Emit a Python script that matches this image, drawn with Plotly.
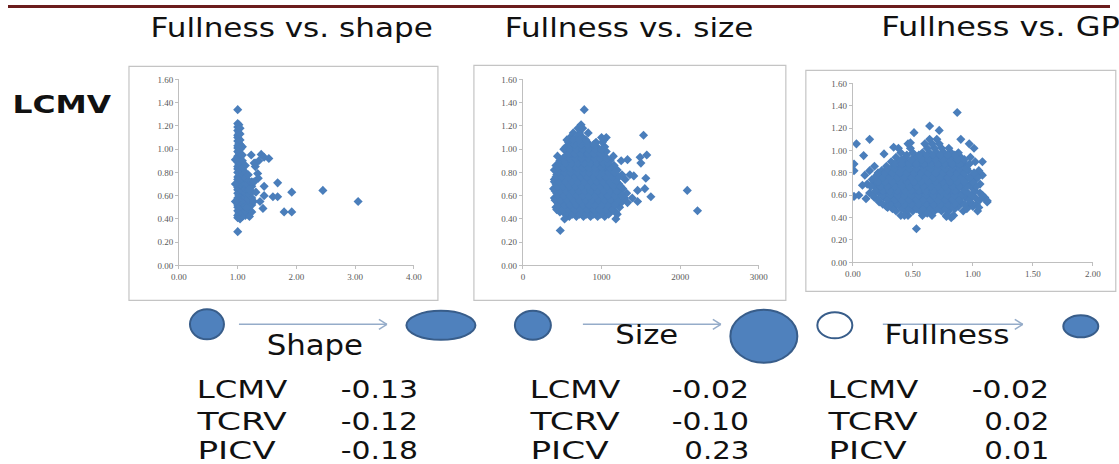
import json
import plotly.graph_objects as go

W, H = 1119, 464

# ---------------- data ----------------
shape_col_x = [1.00, 1.02, 1.04, 1.08, 1.13, 1.18, 1.24, 0.96]
shape_col_y = [
    [0.41, 0.43, 0.47, 0.50, 0.52, 0.56, 0.58, 0.62, 0.65, 0.67, 0.71, 0.74, 0.76, 0.80,
     0.83, 0.85, 0.89, 0.92, 0.94, 0.98, 1.01, 1.03, 1.07, 1.10, 1.12, 1.16, 1.19, 1.22],
    [0.45, 0.53, 0.60, 0.69, 0.77, 0.87, 0.97, 1.05, 1.14, 1.21],
    [0.40, 0.44, 0.48, 0.51, 0.54, 0.57, 0.61, 0.63, 0.66, 0.70, 0.72, 0.75, 0.79, 0.82,
     0.86, 0.88, 0.93, 0.96, 1.00, 1.04, 1.08, 1.13, 1.18],
    [0.42, 0.45, 0.49, 0.53, 0.56, 0.60, 0.64, 0.68, 0.71, 0.74, 0.78, 0.81, 0.84, 0.90, 0.95, 1.02],
    [0.43, 0.47, 0.51, 0.55, 0.59, 0.62, 0.66, 0.70, 0.75, 0.80, 0.86],
    [0.44, 0.48, 0.53, 0.57, 0.61, 0.65, 0.69, 0.73, 0.78],
    [0.46, 0.52, 0.58, 0.63, 0.68, 0.72],
    [0.55, 0.70, 0.91],
]
shape_out_x = [1.00, 1.00, 2.45, 3.05, 1.92, 1.79, 1.92, 1.68, 1.60, 1.68, 1.45, 1.43, 1.45, 1.23, 1.40,
               1.53, 1.45, 1.28, 1.34, 1.30, 1.35, 1.28, 1.31, 1.20, 1.27, 1.38, 1.20, 1.15, 1.30, 1.36]
shape_out_y = [1.34, 0.29, 0.645, 0.55, 0.63, 0.46, 0.46, 0.71, 0.59, 0.59, 0.68, 0.49, 0.60, 0.95, 0.955,
               0.92, 0.93, 0.88, 0.79, 0.85, 0.75, 0.72, 0.63, 0.65, 0.55, 0.55, 0.42, 0.50, 0.88, 0.90]

size_levels = [0.42, 0.46, 0.50, 0.54, 0.58, 0.62, 0.66, 0.70, 0.74, 0.78, 0.82,
               0.86, 0.90, 0.94, 0.98, 1.02, 1.06, 1.10, 1.14, 1.18, 1.21]
size_rows = [
    [590, 680, 770, 860, 950, 1040],
    [470, 540, 620, 700, 780, 860, 940, 1020, 1100, 1180],
    [420, 490, 560, 640, 720, 800, 880, 960, 1040, 1120, 1230],
    [440, 510, 590, 670, 750, 830, 910, 990, 1070, 1150, 1250, 1330],
    [400, 470, 550, 630, 710, 790, 870, 950, 1030, 1110, 1190, 1290, 1390],
    [430, 500, 580, 660, 740, 820, 900, 980, 1060, 1140, 1230, 1320],
    [390, 460, 540, 620, 700, 780, 860, 940, 1020, 1100, 1180, 1270],
    [420, 490, 570, 650, 730, 810, 890, 970, 1050, 1130, 1220],
    [400, 470, 550, 630, 710, 790, 870, 950, 1030, 1110, 1180, 1300],
    [430, 510, 590, 670, 750, 830, 910, 990, 1070, 1150, 1260, 1360],
    [400, 480, 560, 640, 720, 800, 880, 960, 1040, 1120, 1200],
    [420, 500, 580, 660, 740, 820, 900, 980, 1060, 1160],
    [470, 550, 630, 710, 790, 870, 950, 1030, 1110, 1250],
    [440, 540, 620, 700, 780, 860, 940, 1020, 1150],
    [560, 640, 720, 800, 880, 960, 1060],
    [550, 620, 700, 780, 860, 940, 1040],
    [580, 660, 740, 820, 930, 1010],
    [600, 690, 760, 1000, 1060],
    [640, 720, 830],
    [700, 760],
    [740],
]
size_core_levels = [0.44, 0.48, 0.52, 0.56, 0.60, 0.64, 0.68, 0.72, 0.76, 0.80,
                    0.84, 0.88, 0.92, 0.96, 1.00, 1.04, 1.08]
size_core_rows = [
    [540, 630, 720, 810, 900, 990, 1090],
    [430, 510, 580, 660, 740, 820, 900, 980, 1060, 1140],
    [450, 530, 600, 680, 760, 840, 920, 1000, 1080, 1170],
    [410, 480, 560, 640, 720, 800, 880, 960, 1040, 1120, 1210],
    [440, 520, 600, 680, 760, 840, 920, 1000, 1080, 1170, 1260],
    [410, 470, 550, 630, 710, 790, 870, 950, 1030, 1110, 1200],
    [440, 510, 590, 670, 750, 830, 910, 990, 1070, 1150, 1240],
    [400, 460, 540, 620, 700, 780, 860, 940, 1020, 1100, 1190],
    [420, 500, 580, 660, 740, 820, 900, 980, 1060, 1140, 1220],
    [450, 530, 610, 690, 770, 850, 930, 1010, 1090, 1170],
    [440, 520, 600, 680, 760, 840, 920, 1000, 1100],
    [460, 540, 620, 700, 780, 860, 940, 1020, 1080],
    [510, 590, 670, 750, 830, 910, 990, 1070],
    [590, 660, 740, 820, 900, 990],
    [520, 600, 680, 760, 840, 920, 1000],
    [590, 660, 740, 820, 900],
    [560, 640, 720, 800, 1030],
]
size_out_x = [780, 475, 2090, 2220, 1534, 1490, 1575, 1500, 1563, 1550, 1182, 1458, 1627, 1458, 1410, 1330, 530, 1200]
size_out_y = [1.34, 0.30, 0.645, 0.47, 1.12, 0.93, 0.95, 0.88, 0.75, 0.66, 0.40, 0.55, 0.59, 0.645, 0.77, 0.91, 0.40, 0.44]

gp_levels = [0.42, 0.46, 0.50, 0.54, 0.58, 0.62, 0.66, 0.70, 0.74, 0.78, 0.82,
             0.86, 0.90, 0.94, 0.98, 1.02, 1.06, 1.10]
gp_rows = [
    [0.40, 0.46, 0.58, 0.66, 0.78, 0.84],
    [0.36, 0.44, 0.50, 0.56, 0.62, 0.68, 0.74, 0.80, 0.92, 1.04],
    [0.28, 0.34, 0.40, 0.46, 0.52, 0.58, 0.64, 0.70, 0.76, 0.82, 0.88, 0.96, 1.00],
    [0.22, 0.30, 0.36, 0.42, 0.48, 0.54, 0.60, 0.66, 0.72, 0.78, 0.84, 0.90, 0.98, 1.12],
    [0.18, 0.26, 0.32, 0.38, 0.44, 0.50, 0.56, 0.62, 0.68, 0.74, 0.80, 0.86, 0.94, 1.02, 1.10],
    [0.14, 0.22, 0.28, 0.34, 0.40, 0.46, 0.52, 0.58, 0.64, 0.70, 0.76, 0.82, 0.88, 0.96, 1.06],
    [0.20, 0.26, 0.32, 0.38, 0.44, 0.50, 0.56, 0.62, 0.68, 0.74, 0.80, 0.86, 0.92, 1.00],
    [0.12, 0.18, 0.24, 0.30, 0.36, 0.42, 0.48, 0.54, 0.60, 0.66, 0.72, 0.78, 0.84, 0.90, 0.98, 1.06],
    [0.16, 0.22, 0.28, 0.34, 0.40, 0.46, 0.52, 0.58, 0.64, 0.70, 0.76, 0.82, 0.88, 0.94, 1.02],
    [0.10, 0.20, 0.26, 0.32, 0.38, 0.44, 0.50, 0.56, 0.62, 0.68, 0.74, 0.80, 0.86, 0.92, 1.00, 1.08],
    [0.14, 0.24, 0.30, 0.36, 0.42, 0.48, 0.54, 0.60, 0.66, 0.72, 0.78, 0.84, 0.90, 0.96, 1.05],
    [0.18, 0.28, 0.34, 0.40, 0.46, 0.52, 0.58, 0.64, 0.70, 0.76, 0.82, 0.88, 0.94],
    [0.32, 0.38, 0.44, 0.50, 0.56, 0.62, 0.68, 0.74, 0.80, 0.86, 0.92, 1.02],
    [0.36, 0.44, 0.52, 0.60, 0.66, 0.72, 0.78, 0.84, 0.90, 0.98],
    [0.40, 0.50, 0.58, 0.64, 0.70, 0.76, 0.82, 0.88],
    [0.38, 0.48, 0.62, 0.68, 0.74, 0.80, 1.01],
    [0.46, 0.60, 0.66, 0.72, 0.97],
    [0.64, 0.70, 0.90],
]
gp_core_levels = [0.48, 0.52, 0.56, 0.60, 0.64, 0.68, 0.72, 0.76, 0.80, 0.84, 0.88, 0.92, 0.96]
gp_core_rows = [
    [0.33, 0.41, 0.47, 0.53, 0.59, 0.65, 0.71, 0.77, 0.85, 0.95],
    [0.25, 0.31, 0.37, 0.43, 0.49, 0.55, 0.61, 0.67, 0.73, 0.79, 0.85, 0.93, 1.03],
    [0.21, 0.29, 0.35, 0.41, 0.47, 0.53, 0.59, 0.65, 0.71, 0.77, 0.83, 0.89, 0.97, 1.06],
    [0.17, 0.25, 0.31, 0.37, 0.43, 0.49, 0.55, 0.61, 0.67, 0.73, 0.79, 0.85, 0.91, 0.99, 1.08],
    [0.19, 0.25, 0.31, 0.37, 0.43, 0.49, 0.55, 0.61, 0.67, 0.73, 0.79, 0.85, 0.93, 1.02],
    [0.15, 0.23, 0.29, 0.35, 0.41, 0.47, 0.53, 0.59, 0.65, 0.71, 0.77, 0.83, 0.89, 0.95, 1.03],
    [0.21, 0.27, 0.33, 0.39, 0.45, 0.51, 0.57, 0.63, 0.69, 0.75, 0.81, 0.87, 0.93, 1.00],
    [0.19, 0.25, 0.31, 0.37, 0.43, 0.49, 0.55, 0.61, 0.67, 0.73, 0.79, 0.85, 0.91, 0.97, 1.04],
    [0.21, 0.27, 0.33, 0.39, 0.45, 0.51, 0.57, 0.63, 0.69, 0.75, 0.81, 0.87, 0.93, 1.01],
    [0.29, 0.35, 0.41, 0.47, 0.53, 0.59, 0.65, 0.71, 0.77, 0.83, 0.89, 0.95],
    [0.35, 0.41, 0.47, 0.53, 0.59, 0.65, 0.71, 0.77, 0.83, 0.89, 0.97],
    [0.41, 0.49, 0.57, 0.63, 0.69, 0.75, 0.81, 0.87, 0.93],
    [0.45, 0.55, 0.62, 0.67, 0.73, 0.79, 0.85],
]
gp_out_x = [0.87, 0.53, 0.03, 0.14, 0.01, 0.01, 0.01, 0.05, 0.09, 0.11, 0.08, 0.29, 0.26, 0.64, 0.72,
            0.51, 0.48, 0.34, 1.08, 1.12, 1.05, 0.82, 0.78, 0.43, 0.62]
gp_out_y = [1.34, 0.30, 1.06, 1.10, 0.88, 0.82, 0.59, 0.60, 0.955, 0.57, 0.69, 0.49, 0.97, 1.22, 1.18,
            1.16, 1.07, 1.03, 0.90, 0.55, 0.49, 0.40, 0.41, 0.42, 0.44]

panel_titles = ["Fullness vs. shape", "Fullness vs. size", "Fullness vs. GP"]
arrow_labels = ["Shape", "Size", "Fullness"]
row_labels = ["LCMV", "TCRV", "PICV"]
corr_shape = [-0.13, -0.12, -0.18]
corr_size = [-0.02, -0.10, 0.23]
corr_gp = [-0.02, 0.02, 0.01]

# ---------------- build point lists ----------------
def from_cols(cx, cy):
    xs, ys = [], []
    for x, col in zip(cx, cy):
        for y in col:
            xs.append(x); ys.append(y)
    return xs, ys

def from_rows(levels, rows):
    xs, ys = [], []
    for y, row in zip(levels, rows):
        for x in row:
            xs.append(x); ys.append(y)
    return xs, ys

sx, sy = from_cols(shape_col_x, shape_col_y)
sx += shape_out_x; sy += shape_out_y
zx, zy = from_rows(size_levels, size_rows)
cx_, cy_ = from_rows(size_core_levels, size_core_rows)
zx += cx_ + size_out_x; zy += cy_ + size_out_y
gx, gy = from_rows(gp_levels, gp_rows)
cx_, cy_ = from_rows(gp_core_levels, gp_core_rows)
gx += cx_ + gp_out_x; gy += cy_ + gp_out_y

# ---------------- geometry helpers (reference-pixel -> paper) ----------------
# the photographed page shows a small border, so positions are mapped back to it
OX, OY, SX, SY = 7.0, 4.5, 0.985, 0.979

def PX(x):
    return ((x - OX) / SX) / W

def PY(y):
    return 1 - ((y - OY) / SY) / H

def LEN(w):
    return round(w / SX, 1)

BLUE = "#4a7ebb"
marker = dict(symbol="diamond", size=7, color=BLUE, line=dict(width=0))

fig = go.Figure()
fig.add_trace(go.Scatter(x=sx, y=sy, mode="markers", marker=marker, xaxis="x", yaxis="y", hoverinfo="skip"))
fig.add_trace(go.Scatter(x=zx, y=zy, mode="markers", marker=marker, xaxis="x2", yaxis="y2", hoverinfo="skip"))
fig.add_trace(go.Scatter(x=gx, y=gy, mode="markers", marker=marker, xaxis="x3", yaxis="y3", hoverinfo="skip"))

tickfont = dict(family="Liberation Serif", size=9, color="#595959")
axcommon = dict(showline=True, linecolor="#bfbfbf", linewidth=1, ticks="outside", ticklen=3,
                tickcolor="#bfbfbf", showgrid=False, zeroline=False, tickfont=tickfont, fixedrange=True)

boxes = [(178, 413, 265, 79), (522, 758, 265, 79), (852, 1092, 262, 83)]
xranges = [[0, 4], [0, 3000], [0, 2]]
xticks = [[0, 1, 2, 3, 4], [0, 1000, 2000, 3000], [0, 0.5, 1, 1.5, 2]]
xfmts = [".2f", "d", ".2f"]

layout = dict(width=W, height=H, margin=dict(l=0, r=0, t=0, b=0), showlegend=False,
              paper_bgcolor="white", plot_bgcolor="white")
for i, (l, r, b, t) in enumerate(boxes):
    sfx = "" if i == 0 else str(i + 1)
    layout["xaxis" + sfx] = dict(domain=[PX(l), PX(r)], range=xranges[i], tickvals=xticks[i],
                                 tickformat=xfmts[i], anchor="y" + sfx, **axcommon)
    layout["yaxis" + sfx] = dict(domain=[PY(b), PY(t)], range=[0, 1.6],
                                 tickvals=[0, 0.2, 0.4, 0.6, 0.8, 1.0, 1.2, 1.4, 1.6],
                                 tickformat=".2f", anchor="x" + sfx, **axcommon)
fig.update_layout(**layout)

shapes = []
shapes.append(dict(type="rect", xref="paper", yref="paper", x0=0, x1=1, y0=1 - 3 / H, y1=1,
                   fillcolor="#6b1d1d", line=dict(width=0)))
for (l, r, t, b) in [(128, 437, 66, 300), (473, 785, 65, 300), (805, 1115, 70, 291)]:
    shapes.append(dict(type="rect", xref="paper", yref="paper", x0=PX(l), x1=PX(r), y0=PY(b), y1=PY(t),
                       line=dict(color="#c4c4c4", width=1.2), fillcolor="rgba(0,0,0,0)", layer="below"))

ellipses = [(206, 324, 34, 30, True), (440, 325, 69, 29, True), (532, 325, 36, 29, True),
            (763, 336, 67, 53, True), (834, 325, 35, 26, False), (1080, 326, 35, 22, True)]
for cx, cy, w, h, filled in ellipses:
    shapes.append(dict(type="circle", xref="paper", yref="paper",
                       x0=PX(cx - w / 2), x1=PX(cx + w / 2), y0=PY(cy + h / 2), y1=PY(cy - h / 2),
                       fillcolor="#4f81bd" if filled else "white",
                       line=dict(color="#385d8a", width=2)))

ARROW = "#95acc9"
for x0, x1, y in [(238, 386, 324), (582, 720, 324), (882, 1022, 324)]:
    shapes.append(dict(type="line", xref="paper", yref="paper", x0=PX(x0), x1=PX(x1), y0=PY(y), y1=PY(y),
                       line=dict(color=ARROW, width=1.5)))
    for dy in (-5, 5):
        shapes.append(dict(type="line", xref="paper", yref="paper", x0=PX(x1 - 8), x1=PX(x1),
                           y0=PY(y + dy), y1=PY(y), line=dict(color=ARROW, width=1.5)))
fig.update_layout(shapes=shapes)

# ---------------- texts: (text, left, right, cap-centre y, size, bold) ----------------
BIG = "DejaVu Sans"
texts = [
    (panel_titles[0], 152, 430, 26.5, 27, False),
    (panel_titles[1], 506, 751, 26.5, 27, False),
    (panel_titles[2], 882, 1117, 25.5, 27, False),
    ("LCMV", 13, 110, 103.5, 24, True),
    (arrow_labels[0], 267, 362, 344.5, 28, False),
    (arrow_labels[1], 615, 677, 334, 26, False),
    (arrow_labels[2], 885, 1008, 333.5, 26, False),
]
row_y = [388, 420, 449]
label_w = {"LCMV": 89, "TCRV": 88, "PICV": 77}
for lab_x, val_right, vals in [(197, 417, corr_shape), (530, 748, corr_size), (828, 1048, corr_gp)]:
    for lab, v, yy in zip(row_labels, vals, row_y):
        texts.append((lab, lab_x, lab_x + label_w[lab], yy, 25, False))
        vw = 76 if v < 0 else 64
        texts.append((f"{v:.2f}", val_right - vw, val_right, yy, 25, False))

ann, lengths = [], []
for txt, left, right, yc, size, bold in texts:
    ann.append(dict(text=f"<b>{txt}</b>" if bold else txt, x=PX((left + right) / 2), y=PY(yc + 1),
                    xref="paper", yref="paper", xanchor="center", yanchor="middle", showarrow=False,
                    font=dict(family=BIG, size=size, color="#111111")))
    lengths.append(LEN(right - left))
fig.update_layout(annotations=ann)

stretch = (
    "var T=document.querySelectorAll('.annotation-text');"
    "var L=" + json.dumps(lengths) + ";"
    "for(var i=0;i<T.length&&i<L.length;i++)"
    "T[i].setAttribute('textLength',L[i]),T[i].setAttribute('lengthAdjust','spacingAndGlyphs');"
    "document.body.style.margin='0';document.body.style.overflow='hidden';"
)
fig.write_html("out.html", config={"displayModeBar": False, "staticPlot": True}, post_script=stretch)
